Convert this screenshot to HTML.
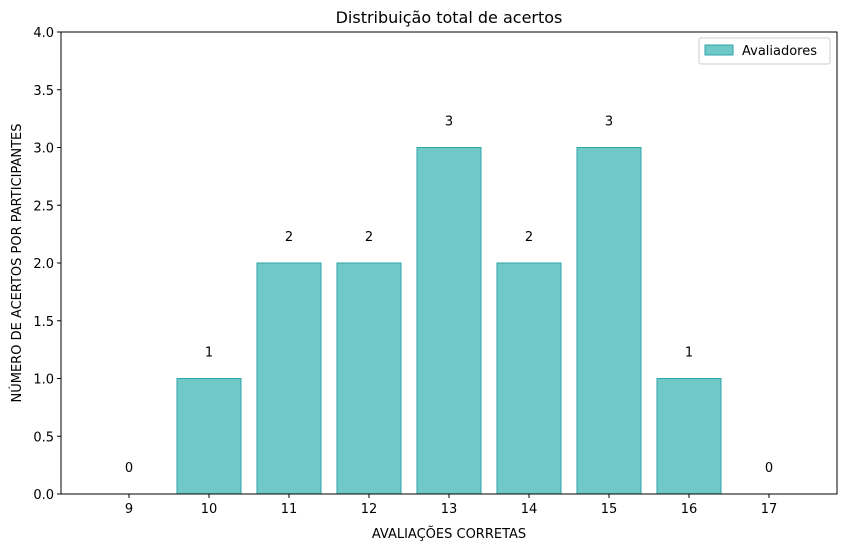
<!DOCTYPE html>
<html><head><meta charset="utf-8"><style>
body{margin:0;background:#fff;}
svg{font-family:"DejaVu Sans","Liberation Sans",sans-serif;}
</style></head><body>
<svg id="chart" width="846" height="550">
<text x="449" y="23" font-size="16" text-anchor="middle">Distribuição total de acertos</text>
<g id="bars"></g>
<g id="axes"></g>
<text x="449" y="538" font-size="13" text-anchor="middle">AVALIAÇÕES CORRETAS</text>
<text transform="translate(21,263) rotate(-90)" font-size="13" text-anchor="middle">NÚMERO DE ACERTOS POR PARTICIPANTES</text>
<g>
<rect x="699" y="38" width="131" height="26" fill="#fff" stroke="#ccc" rx="2"/>
<rect x="705" y="45" width="28" height="10" fill="#70c8c8" stroke="#2ea6a6"/>
<text x="742" y="55" font-size="13">Avaliadores</text>
</g>
</svg>
<script>
const categories=[9,10,11,12,13,14,15,16,17];
const values=[0,1,2,2,3,2,3,1,0];
const yTicks=[0,0.5,1,1.5,2,2.5,3,3.5,4];
const L=61,R=837,T=32,B=494,xmin=8.15,xmax=17.85,ymax=4;
const X=v=>L+(v-xmin)/(xmax-xmin)*(R-L);
const Y=v=>B-v/ymax*(B-T);
const ns="http://www.w3.org/2000/svg";
function mk(t,a,p){const e=document.createElementNS(ns,t);for(const k in a)e.setAttribute(k,a[k]);p.appendChild(e);return e;}
const bars=document.getElementById('bars'),axes=document.getElementById('axes');
categories.forEach((c,i)=>{
 const v=values[i];
 const r=mk('rect',{x:X(c-0.4),y:Y(v),width:X(c+0.4)-X(c-0.4),height:Y(0)-Y(v),fill:'#70c8c8',stroke:'#2ea6a6','stroke-width':1},bars);
 
 
 const t=mk('text',{x:X(c),y:Y(v)-22,'font-size':13,'text-anchor':'middle'},bars);
 t.textContent=v;
 
 
 mk('line',{x1:X(c),x2:X(c),y1:B,y2:B+4,stroke:'#000'},axes);
 const xt=mk('text',{x:X(c),y:B+19,'font-size':13,'text-anchor':'middle'},axes);
 xt.textContent=c;
 
 
});
yTicks.forEach(v=>{
 mk('line',{x1:L-4,x2:L,y1:Y(v),y2:Y(v),stroke:'#000'},axes);
 const t=mk('text',{x:L-7,y:Y(v)+5,'font-size':13,'text-anchor':'end'},axes);
 t.textContent=v.toFixed(1);
 
 
});
const f=mk('rect',{x:L,y:T,width:R-L,height:B-T,fill:'none',stroke:'#000','stroke-width':1},axes);


</script>
</body></html>
